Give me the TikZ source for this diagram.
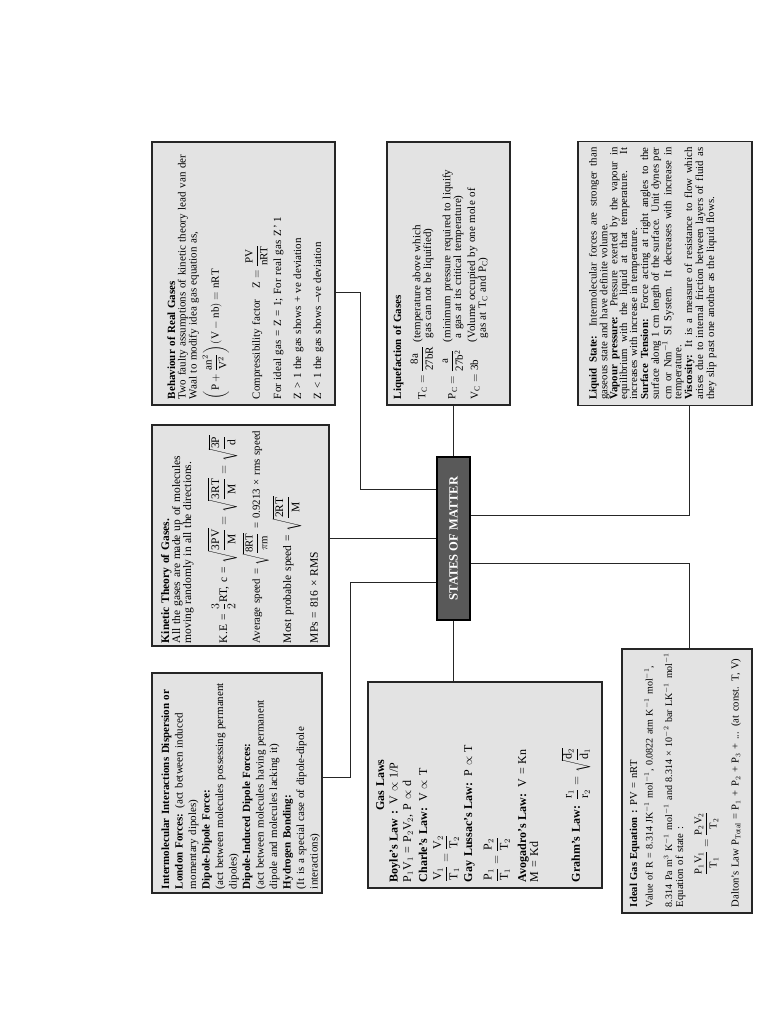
\documentclass[tikz,border=0pt]{standalone}
\usepackage{amsmath}
\usepackage{fontspec}
\setmainfont{Liberation Serif}
\usetikzlibrary{positioning,calc}
\newcommand{\rmv}[1]{\mathrm{#1}}
\newcommand{\jl}[1]{\noindent\hbox to\linewidth{\spaceskip=0pt\xspaceskip=0pt #1}}
\newcommand{\lowf}[2]{\makebox[57pt][l]{\raisebox{#1}[0pt][0pt]{#2}}}

\begin{document}
\begin{tikzpicture}[x=1pt, y=-1pt,
  box/.style={draw=black!85, line width=1.1pt, fill=black!11, rotate=90, align=left, inner xsep=6pt, inner ysep=0pt, font=\fontsize{11}{10.5}\selectfont},
  hub/.style={draw=black, line width=1.1pt, fill=black!65, text=white, rotate=90, font=\bfseries\fontsize{12.5}{14}\selectfont, minimum width=163pt, minimum height=33pt, inner sep=0pt},
  ln/.style={line width=1pt, black!85}]
\useasboundingbox (0,0) rectangle (768,1024);
\node[hub] (som) at (453.5,538.5) {STATES OF MATTER};
\node[box, text width=251pt, text height=23pt, text depth=160pt] (beh) at (243.5,273.5) {\textbf{Behaviour of Real Gases}\\
Two faulty assumptions of kinetic theory lead van der\\[0.5pt]
Waal to modify idea gas equation as,\\[2.5pt]
$\left(\rmv{P}+\dfrac{\rmv{an}^2}{\rmv{V}^2}\right)(\rmv{V}-\rmv{nb})=\rmv{nRT}$\\[15pt]
Compressibility factor\quad $\rmv{Z}=\dfrac{\rmv{PV}}{\rmv{nRT}}$\\[5pt]
For ideal gas = Z = 1; For real gas Z\,'\,1\\[9.5pt]
Z > 1 the gas shows + ve deviation\\[9.5pt]
Z < 1 the gas shows –ve deviation};
\node[box, text width=215pt, inner xsep=3pt, text height=17pt, text depth=160pt, font=\fontsize{11.5}{11}\selectfont] (kin) at (240.5,535.5) {\textbf{Kinetic Theory of Gases.}\\
All the gases are made up of molecules\\
moving randomly in all the directions.\\[13.5pt]
K.E = $\dfrac{3}{2}$RT, c = $\sqrt{\dfrac{\rmv{3PV}}{\rmv{M}}}=\sqrt{\dfrac{\rmv{3RT}}{\rmv{M}}}=\sqrt{\dfrac{\rmv{3P}}{\rmv{d}}}$\\[4pt]
{\fontsize{10.8}{11}\selectfont\mbox{Average speed = $\sqrt{\dfrac{\rmv{8RT}}{\pi\rmv{m}}}$ = 0.9213 × rms speed}}\\[2pt]
Most probable speed = $\sqrt{\dfrac{\rmv{2RT}}{\rmv{M}}}$\\[8pt]
MPs = 816 × RMS};
\node[box, text width=212pt, inner xsep=4pt, text height=17pt, text depth=153pt, font=\fontsize{11}{13.5}\selectfont] (inter) at (237,783) {\textbf{Intermolecular Interactions Dispersion or}\\
\textbf{London Forces:} (act between induced\\
momentary dipoles)\\
\textbf{Dipole-Dipole Force:}\\
(act between molecules possessing permanent\\
dipoles)\\
\textbf{Dipole-Induced Dipole Forces:}\\
(act between molecules having permanent\\
dipole and molecules lacking it)\\
\textbf{Hydrogen Bonding:}\\
(It is a special case of dipole-dipole\\
interactions)};
\node[box, text width=194pt, text height=16pt, text depth=218pt, font=\fontsize{12}{13.5}\selectfont] (gas) at (485,785) {\makebox[\linewidth]{\textbf{Gas Laws}}\\
\textbf{Boyle's Law :} V $\propto$ 1/P\\
P$_1$V$_1$ = P$_2$V$_2$, P $\propto$ d\\[2.5pt]
\textbf{Charle's Law:} V $\propto$ T\\[5pt]
$\dfrac{\rmv{V}_1}{\rmv{T}_1}=\dfrac{\rmv{V}_2}{\rmv{T}_2}$\\[4pt]
\textbf{Gay Lussac's Law:} P $\propto$ T\\[8pt]
$\dfrac{\rmv{P}_1}{\rmv{T}_1}=\dfrac{\rmv{P}_2}{\rmv{T}_2}$\\[7pt]
\textbf{Avogadro's Law:} V = Kn\\[-1.5pt]
M = Kd\\[22pt]
\textbf{Grahm's Law:} $\dfrac{\rmv{r}_1}{\rmv{r}_2}=\sqrt{\dfrac{\rmv{d}_2}{\rmv{d}_1}}$};
\node[box, text width=251pt, text height=14pt, text depth=109pt, font=\fontsize{11}{10.8}\selectfont] (liqf) at (448.5,273.5) {\textbf{Liquefaction of Gases}\\[8.5pt]
\lowf{-5pt}{$\rmv{T_C}=\dfrac{\rmv{8a}}{\rmv{27bR}}$}(temperature above which\\
\hspace*{57pt}\phantom{(}gas can not be liquified)\\[8.5pt]
\lowf{-5pt}{$\rmv{P_C}=\dfrac{\rmv{a}}{\rmv{27b^2}}$}(minimum pressure required to liquify\\
\hspace*{57pt}\phantom{(}a gas at its critical temperature)\\[3pt]
\lowf{-3pt}{$\rmv{V_C}=\rmv{3b}$}(Volume occupied by one mole of\\
\hspace*{57pt}\phantom{(}gas at T$_\rmv{C}$ and P$_\rmv{C}$)};
\node[box, text width=252pt, text height=18.5pt, text depth=155.5pt, font=\fontsize{10.8}{9.9}\selectfont] (liq) at (665,273.5) {\jl{\textbf{Liquid State:} Intermolecular forces are stronger than}\\
gaseous state and have definite volume.\\
\jl{\textbf{Vapour pressure:} Pressure exerted by the vapour in}\\
\jl{equilibrium with the liquid at that temperature. It}\\
increases with increase in temperature.\\
\jl{\textbf{Surface Tension:} Force acting at right angles to the}\\
\jl{surface along 1 cm length of the surface. Unit dynes per}\\
\jl{cm or Nm$^{-1}$ SI System. It decreases with increase in}\\
temperature.\\
\jl{\textbf{Viscosity:} It is a measure of resistance to flow which}\\
\jl{arises due to internal friction between layers of fluid as}\\
they slip past one another as the liquid flows.};
\node[box, text width=252pt, text height=15pt, text depth=115pt, font=\fontsize{10.6}{11}\selectfont] (ideal) at (687,781) {\textbf{Ideal Gas Equation :} PV = nRT\\[4.5pt]
{\fontsize{10}{11}\selectfont\mbox{Value of R = 8.314 JK$^{-1}$ mol$^{-1}$, 0.0822 atm K$^{-1}$ mol$^{-1}$,}}\\[8.5pt]
{\fontsize{10}{11}\selectfont\mbox{8.314 Pa m$^3$ K$^{-1}$ mol$^{-1}$ and 8.314 × 10$^{-2}$ bar LK$^{-1}$ mol$^{-1}$}}\\
Equation of state :\\[8.5pt]
\hspace*{3em}$\dfrac{\rmv{P_1V_1}}{\rmv{T_1}}=\dfrac{\rmv{P_2V_2}}{\rmv{T_2}}$\\[12pt]
\mbox{Dalton's Law P$_\rmv{Total}$ = P$_1$ + P$_2$ + P$_3$ + ... (at const. T, V)}};
\draw[ln] ([yshift=-18.5pt]beh.south) -- ++(25,0) |- ([yshift=49.5pt]som.north);
\draw[ln] (kin.south |- som.north) -- (som.north);
\draw[ln] ([yshift=6pt]inter.south) -- ++(28,0) |- ([yshift=-43.5pt]som.north);
\draw[ln] (som.east) -- (som.east |- liqf.west);
\draw[ln] (som.west) -- (som.west |- gas.east);
\draw[ln] ([yshift=23.5pt]som.south) -| ([xshift=24pt]liq.west);
\draw[ln] ([yshift=-24.5pt]som.south) -| ([xshift=2pt]ideal.east);
\end{tikzpicture}
\end{document}
